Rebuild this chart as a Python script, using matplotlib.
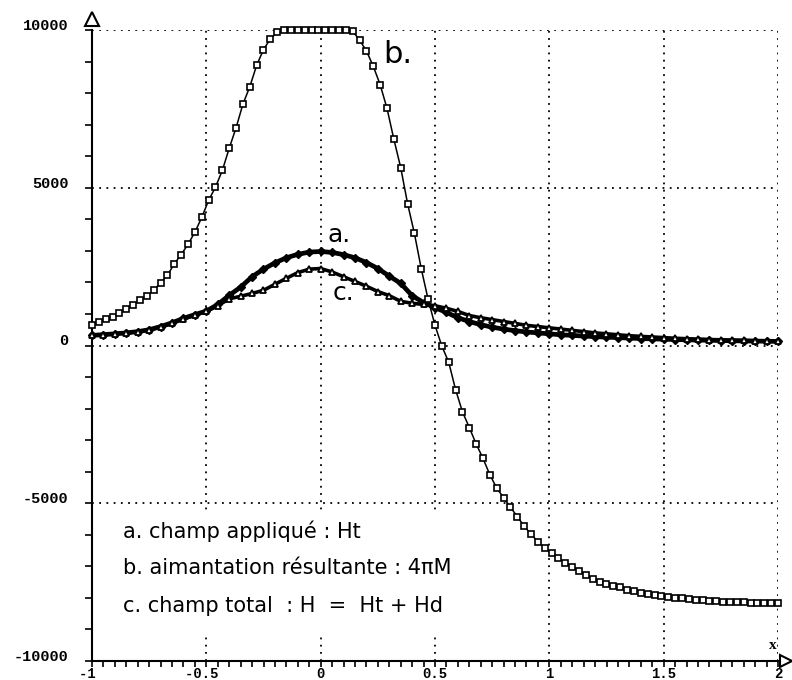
import numpy as np
import matplotlib
matplotlib.use('Agg')
import matplotlib.pyplot as plt
from matplotlib.patches import Rectangle
from matplotlib.transforms import ScaledTranslation

# b. aimantation 4piM, sampled every 0.03 on [-1, 2]
x_b = np.linspace(-1, 2, 101)
aimantation = [
    665, 740, 830, 910, 1030, 1160, 1270, 1450, 1560, 1760,
    1980, 2230, 2590, 2880, 3210, 3590, 4060, 4600, 5020, 5550,
    6250, 6900, 7650, 8200, 8880, 9380, 9720, 9930, 10000, 10000,
    10000, 10000, 10000, 10000, 10000, 10000, 10000, 10000, 9960, 9680,
    9340, 8850, 8270, 7520, 6540, 5640, 4500, 3550, 2430, 1460,
    640, -20, -530, -1400, -2100, -2600, -3120, -3580, -4100, -4520,
    -4820, -5130, -5420, -5730, -5980, -6220, -6420, -6580, -6730, -6900,
    -7030, -7140, -7270, -7400, -7500, -7560, -7610, -7660, -7740, -7790,
    -7840, -7880, -7910, -7940, -7970, -8000, -8010, -8040, -8065, -8080,
    -8095, -8105, -8120, -8130, -8135, -8140, -8150, -8155, -8160, -8165,
    -8165,
]

# a. champ applique Ht and c. champ total H, sampled every 0.05
x_ac = np.linspace(-1, 2, 61)
champ_applique = [
    320, 345, 370, 400, 440, 500, 600, 720, 860, 980,
    1090, 1300, 1590, 1850, 2180, 2420, 2620, 2780, 2890, 2960,
    2980, 2950, 2880, 2780, 2630, 2440, 2200, 1970, 1580, 1360,
    1200, 1050, 880, 760, 660, 580, 520, 470, 430, 400,
    370, 340, 320, 300, 280, 265, 250, 235, 220, 210,
    200, 190, 180, 172, 165, 158, 150, 145, 140, 135,
    130,
]
champ_total = [
    320, 345, 370, 400, 440, 490, 580, 700, 840, 960,
    1080, 1260, 1480, 1560, 1650, 1750, 1940, 2130, 2310, 2420,
    2440, 2330, 2180, 2030, 1880, 1710, 1580, 1400, 1340, 1300,
    1260, 1180, 1080, 950, 880, 820, 760, 700, 640, 600,
    560, 520, 480, 440, 400, 370, 340, 310, 290, 270,
    250, 230, 215, 200, 190, 180, 170, 160, 150, 145,
    140,
]

x_ticks = [-1, -0.5, 0, 0.5, 1, 1.5, 2]
x_ticklabels = ['-1 ', '-0.5 ', '0', '0.5', '1', '1.5', '2']
y_ticks = [-10000, -5000, 0, 5000, 10000]
y_ticklabels = ['-10000', '-5000', '0', '5000', '10000']

legend_lines = [
    'a. champ appliqué : Ht',
    'b. aimantation résultante : 4\u03c0M',
    'c. champ total  : H  =  Ht + Hd',
]


def main():
    fig = plt.figure(figsize=(7.92, 6.8), dpi=100)
    ax = fig.add_axes([92 / 792, 19 / 680, 686 / 792, 631 / 680])
    ax.set_xlim(-1, 2)
    ax.set_ylim(-10000, 10000)

    for s in ['top', 'right']:
        ax.spines[s].set_visible(False)
    for s in ['left', 'bottom']:
        ax.spines[s].set_linewidth(1.5)

    # dotted grid, including the top and right borders
    dots = (0, (1, 3))
    for yv in [-5000, 0, 5000, 10000]:
        ax.axhline(yv, color='black', lw=1.3, ls=dots, zorder=1)
    for xv in [-0.5, 0, 0.5, 1, 1.5, 2]:
        ax.axvline(xv, color='black', lw=1.3, ls=dots, zorder=1)

    # white panel behind the legend text
    ax.add_patch(Rectangle((0.012, 0.044), 0.56, 0.195, transform=ax.transAxes,
                           facecolor='white', edgecolor='none', zorder=2))

    ax.plot(x_b, aimantation, color='black', lw=1.1, marker='s', ms=4.8,
            mfc='white', mec='black', mew=1.2, zorder=4, clip_on=False)
    ax.plot(x_ac, champ_applique, color='black', lw=3.4, marker='D', ms=3.8,
            mfc='black', mec='black', zorder=3, clip_on=False)
    ax.plot(x_ac, champ_total, color='black', lw=2.6, marker='^', ms=5,
            mfc='white', mec='black', mew=1.3, zorder=3, clip_on=False)

    # curve labels
    ax.text(0.032, 3290, 'a.', fontsize=18, family='DejaVu Sans', zorder=5)
    ax.text(0.054, 1456, 'c.', fontsize=18, family='DejaVu Sans', zorder=5)
    ax.text(0.272, 8956, 'b.', fontsize=22, family='DejaVu Sans', zorder=5)

    for i, line in enumerate(legend_lines):
        ax.text(0.045, 0.206 - i * 0.0593, line, transform=ax.transAxes,
                fontsize=15, family='DejaVu Sans', va='center', zorder=5)

    # ticks
    mono = {'family': 'Liberation Mono', 'weight': 'bold', 'size': 11}
    ax.set_xticks(x_ticks)
    ax.set_xticklabels(x_ticklabels, fontdict=dict(mono, size=10))
    ax.set_xticks(np.arange(-1, 2.001, 0.05), minor=True)
    ax.set_yticks(y_ticks)
    ax.set_yticklabels(y_ticklabels, fontdict=mono)
    ax.set_yticks(np.arange(-10000, 10001, 1000), minor=True)
    ax.tick_params(axis='x', which='both', direction='out', length=4,
                   width=1.2, pad=0)
    ax.tick_params(axis='y', which='both', direction='out', length=5,
                   width=1.2, pad=12)
    shift = ScaledTranslation(0, 4 / 72, fig.dpi_scale_trans)
    for lab in ax.get_yticklabels():
        lab.set_transform(lab.get_transform() + shift)

    # axis arrows and x name
    ax.plot([0], [1.018], marker='^', ms=10, mfc='white', mec='black',
            mew=1.5, transform=ax.transAxes, clip_on=False)
    ax.plot([1.012], [0], marker='>', ms=9, mfc='white', mec='black',
            mew=1.5, transform=ax.transAxes, clip_on=False)
    ax.text(0.993, 0.025, 'x', transform=ax.transAxes, ha='center',
            va='center', fontsize=11, family='Liberation Serif', weight='bold')

    fig.savefig('out.png', dpi=100)


if __name__ == '__main__':
    main()
